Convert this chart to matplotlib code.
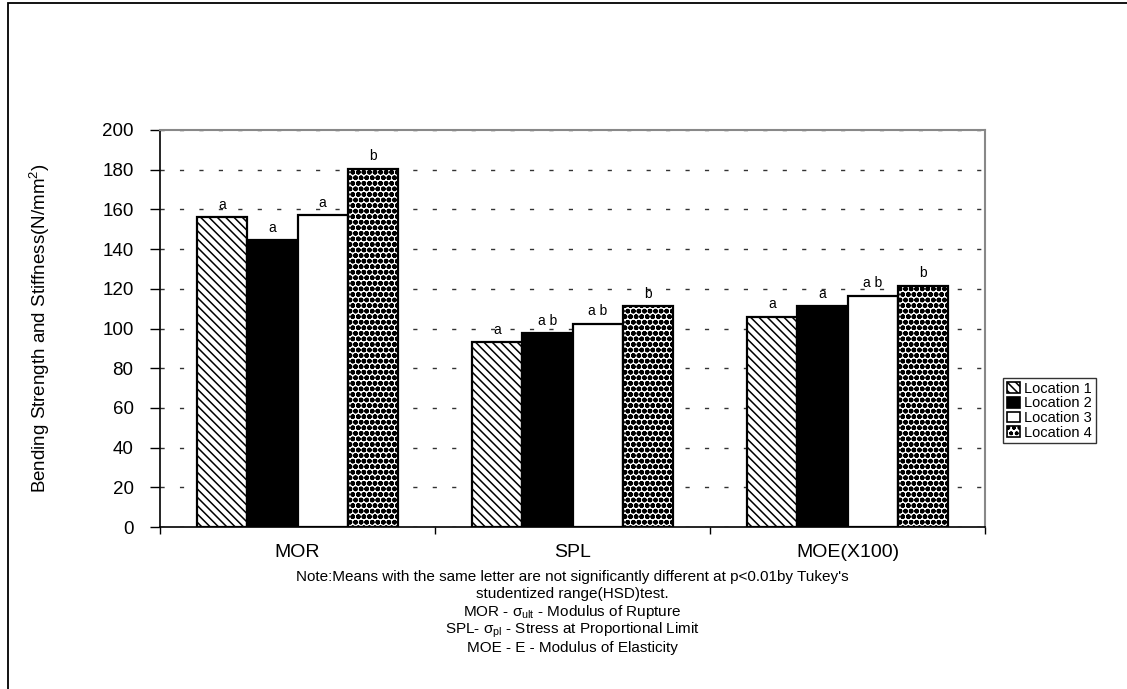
import matplotlib
matplotlib.use("Agg")
import matplotlib.pyplot as plt
import numpy as np
from matplotlib.patches import Rectangle, Patch

plt.rcParams['font.family'] = ['Liberation Sans', 'DejaVu Sans']
plt.rcParams['mathtext.fontset'] = 'custom'
plt.rcParams['mathtext.rm'] = 'Liberation Sans'
plt.rcParams['mathtext.it'] = 'Liberation Sans:italic'
plt.rcParams['hatch.linewidth'] = 1.1

categories = ["MOR", "SPL", "MOE(X100)"]
series_names = ["Location 1", "Location 2", "Location 3", "Location 4"]
loc1 = [156, 93, 106]
loc2 = [144.5, 97.5, 111.3]
loc3 = [157, 102.5, 116.5]
loc4 = [180.5, 111.3, 121.6]
letters = [["a", "a", "a"], ["a", "a b", "a"], ["a", "a b", "a b"], ["b", "b", "b"]]
yticks = [0, 20, 40, 60, 80, 100, 120, 140, 160, 180, 200]
note_lines = [
    "Note:Means with the same letter are not significantly different at p<0.01by Tukey's",
    "studentized range(HSD)test.",
    "MOR - σ$_{\\mathrm{ult}}$ - Modulus of Rupture",
    "SPL- σ$_{\\mathrm{pl}}$ - Stress at Proportional Limit",
    "MOE - E - Modulus of Elasticity",
]

W, H = 1127, 689
fig = plt.figure(figsize=(W / 100, H / 100), dpi=100)
ax = fig.add_axes([160 / W, 1 - 527 / H, (985 - 160) / W, (527 - 130) / H])

# outer frame
fig.patches.append(Rectangle((8 / W, -0.05), 1.2, (H - 3) / H + 0.05, transform=fig.transFigure,
                             fill=False, edgecolor='black', linewidth=1.3, zorder=0))

values = [loc1, loc2, loc3, loc4]
styles = [
    dict(facecolor='white', hatch='\\\\\\\\', edgecolor='black'),
    dict(facecolor='black', edgecolor='black'),
    dict(facecolor='white', edgecolor='black'),
    dict(facecolor='white', hatch='ooo', edgecolor='black'),
]
hatch_lw = [1.1, 1.0, 1.0, 1.7]
x = np.arange(len(categories)) + 0.5
bw = 0.182
for i, (vals, st) in enumerate(zip(values, styles)):
    pos = x + (i - 1.5) * bw
    bars = ax.bar(pos, vals, width=bw, linewidth=1.6, zorder=3, **st)
    for b in bars:
        if hasattr(b, 'set_hatch_linewidth'):
            b.set_hatch_linewidth(hatch_lw[i])
    for b, v, lab in zip(bars, vals, [letters[i][j] for j in range(3)]):
        ax.annotate(lab, (b.get_x() + b.get_width() / 2, v), xytext=(0, 4),
                    textcoords='offset points', ha='center', va='bottom', fontsize=10, zorder=4)

ax.set_xlim(0, 3)
ax.set_ylim(0, 200)
ax.set_yticks(yticks)
ax.set_yticklabels([str(t) for t in yticks], fontsize=13.5)
ax.tick_params(axis='y', direction='out', length=7, width=1, pad=12)
ax.set_xticks([0, 1, 2, 3])
ax.set_xticklabels([])
ax.tick_params(axis='x', which='major', direction='out', length=5, width=1)
ax.set_xticks(x, minor=True)
ax.set_xticklabels(categories, minor=True, fontsize=14)
ax.tick_params(axis='x', which='minor', length=0, pad=12)

ax.yaxis.grid(True, linestyle=(0, (3, 11)), color='#333333', linewidth=1.0, zorder=0)
ax.set_axisbelow(True)

for s in ['top', 'right']:
    ax.spines[s].set_color('#888888')
    ax.spines[s].set_linewidth(1.5)
for s in ['left', 'bottom']:
    ax.spines[s].set_color('black')
    ax.spines[s].set_linewidth(1.2)

ax.set_ylabel("Bending Strength and Stiffness(N/mm$^2$)", fontsize=13.5)
ax.yaxis.set_label_coords((52 - 160) / 825, 0.5)

note_y = [577, 594, 612, 630, 648]
for t, yy in zip(note_lines, note_y):
    fig.text(572 / W, 1 - yy / H, t, ha='center', va='center', fontsize=11)

handles = [Patch(label=n, linewidth=1.2, **st) for n, st in zip(series_names, styles)]
leg = fig.legend(handles=handles, loc='upper left', bbox_to_anchor=(1003 / W, 1 - 378 / H),
                 fontsize=10.5, frameon=True, fancybox=False, shadow=False,
                 handlelength=0.9, handleheight=0.75, handletextpad=0.3, labelspacing=0.05,
                 borderpad=0.25, borderaxespad=0)
leg.get_frame().set_edgecolor('black')
leg.get_frame().set_linewidth(1.0)

fig.savefig("out.png", dpi=100)
